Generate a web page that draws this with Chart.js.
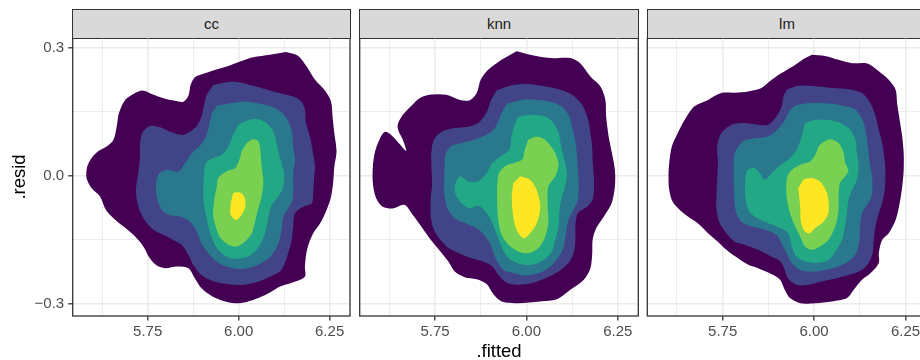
<!DOCTYPE html>
<html>
<head>
<meta charset="utf-8">
<script src="https://cdn.jsdelivr.net/npm/chart.js@4.4.0/dist/chart.umd.min.js"></script>
<style>
  html, body { margin: 0; padding: 0; background: #fff; }
  body { position: relative; width: 920px; height: 360px; overflow: hidden; }
  canvas { position: absolute; top: 38px; }
  .strip {
    position: absolute; top: 9px; height: 30px; box-sizing: border-box;
    background: #d9d9d9; border: 1.3px solid #333333;
    font: 15px "Liberation Sans", Arial, sans-serif; color: #1a1a1a;
    text-align: center; line-height: 28px;
  }
</style>
</head>
<body>
<div class="strip" style="left:72px;width:279px">cc</div>
<div class="strip" style="left:359px;width:280px">knn</div>
<div class="strip" style="left:647px;width:280px">lm</div>
<canvas id="cc" width="352" height="322" style="left:0px"></canvas>
<canvas id="knn" width="288" height="322" style="left:352px"></canvas>
<canvas id="lm" width="290" height="322" style="left:640px"></canvas>
<script>
// axes
const xTicks = [5.625, 5.75, 5.875, 6.0, 6.125, 6.25];
const xLabels = ['', '5.75', '', '6.00', '', '6.25'];
const yTicks = [-0.3, -0.15, 0, 0.15, 0.3];
const yLabels = ['\u22120.3', '', '0.0', '', '0.3'];
const xRange = [5.544, 6.306];
const yRange = [-0.329, 0.322];

// viridis, lowest density band first
const levelColors = ['#440154', '#414487', '#2A788E', '#22A884', '#7AD151', '#FDE725'];

// density contour outlines (.fitted, .resid), per panel, outer to inner
const ccL1 = [[6.130,0.289],[6.164,0.280],[6.187,0.255],[6.210,0.224],[6.237,0.199],[6.254,0.173],[6.258,0.138],[6.263,0.099],[6.269,0.056],[6.263,0.021],[6.260,-0.014],[6.254,-0.049],[6.242,-0.080],[6.224,-0.112],[6.205,-0.135],[6.189,-0.170],[6.182,-0.213],[6.182,-0.237],[6.146,-0.251],[6.114,-0.260],[6.086,-0.274],[6.054,-0.287],[6.022,-0.296],[5.990,-0.299],[5.958,-0.294],[5.926,-0.282],[5.898,-0.264],[5.880,-0.241],[5.862,-0.217],[5.830,-0.213],[5.798,-0.217],[5.775,-0.211],[5.756,-0.194],[5.738,-0.166],[5.711,-0.139],[5.683,-0.119],[5.656,-0.100],[5.635,-0.080],[5.619,-0.049],[5.596,-0.030],[5.582,-0.006],[5.584,0.021],[5.596,0.041],[5.613,0.056],[5.637,0.068],[5.656,0.084],[5.665,0.115],[5.671,0.146],[5.688,0.177],[5.711,0.191],[5.736,0.199],[5.761,0.191],[5.793,0.181],[5.825,0.175],[5.848,0.173],[5.862,0.187],[5.868,0.212],[5.880,0.230],[5.903,0.238],[5.930,0.246],[5.967,0.255],[6.004,0.267],[6.040,0.277],[6.086,0.283]];
const ccL2 = [[5.930,0.212],[5.985,0.220],[6.040,0.210],[6.095,0.197],[6.150,0.185],[6.173,0.173],[6.182,0.154],[6.185,0.123],[6.196,0.091],[6.203,0.060],[6.210,0.021],[6.207,-0.010],[6.205,-0.041],[6.201,-0.065],[6.178,-0.073],[6.155,-0.088],[6.150,-0.119],[6.146,-0.151],[6.136,-0.182],[6.127,-0.205],[6.114,-0.225],[6.086,-0.237],[6.059,-0.247],[6.022,-0.255],[5.985,-0.256],[5.949,-0.252],[5.917,-0.243],[5.894,-0.230],[5.875,-0.209],[5.862,-0.186],[5.843,-0.162],[5.820,-0.151],[5.793,-0.139],[5.766,-0.127],[5.745,-0.108],[5.729,-0.084],[5.720,-0.057],[5.718,-0.030],[5.724,0.005],[5.729,0.045],[5.729,0.076],[5.736,0.101],[5.756,0.116],[5.784,0.113],[5.816,0.101],[5.846,0.095],[5.866,0.103],[5.885,0.116],[5.898,0.138],[5.905,0.166],[5.912,0.189]];
const ccL3 = [[5.940,0.163],[5.976,0.169],[6.022,0.173],[6.068,0.166],[6.109,0.154],[6.132,0.134],[6.146,0.103],[6.150,0.068],[6.155,0.037],[6.150,0.005],[6.150,-0.026],[6.148,-0.057],[6.136,-0.077],[6.123,-0.096],[6.118,-0.127],[6.109,-0.159],[6.091,-0.186],[6.063,-0.205],[6.031,-0.216],[5.999,-0.219],[5.967,-0.213],[5.940,-0.202],[5.917,-0.182],[5.898,-0.159],[5.885,-0.131],[5.866,-0.108],[5.839,-0.096],[5.807,-0.092],[5.786,-0.077],[5.775,-0.049],[5.773,-0.018],[5.782,0.005],[5.807,0.013],[5.834,0.009],[5.853,0.029],[5.871,0.052],[5.894,0.070],[5.910,0.091],[5.919,0.119],[5.926,0.146]];
const ccL4 = [[5.999,0.119],[6.027,0.130],[6.054,0.132],[6.077,0.123],[6.097,0.099],[6.106,0.068],[6.115,0.037],[6.125,0.002],[6.121,-0.030],[6.109,-0.049],[6.091,-0.069],[6.082,-0.096],[6.075,-0.127],[6.063,-0.155],[6.045,-0.178],[6.022,-0.191],[5.995,-0.195],[5.967,-0.190],[5.944,-0.174],[5.929,-0.151],[5.919,-0.127],[5.912,-0.100],[5.905,-0.069],[5.903,-0.034],[5.905,0.002],[5.910,0.029],[5.930,0.041],[5.953,0.048],[5.972,0.068],[5.985,0.095]];
const ccL5 = [[6.022,0.076],[6.040,0.085],[6.054,0.080],[6.060,0.056],[6.063,0.021],[6.068,-0.014],[6.063,-0.049],[6.054,-0.077],[6.045,-0.108],[6.036,-0.135],[6.017,-0.155],[5.995,-0.166],[5.972,-0.162],[5.951,-0.147],[5.938,-0.123],[5.930,-0.092],[5.933,-0.057],[5.940,-0.026],[5.944,-0.006],[5.965,0.009],[5.990,0.017],[6.002,0.037],[6.008,0.056]];
const ccL6 = [[5.985,-0.041],[6.004,-0.040],[6.017,-0.053],[6.017,-0.077],[5.995,-0.104],[5.978,-0.092],[5.978,-0.065]];

const knnL1 = [[5.973,0.291],[6.010,0.283],[6.065,0.275],[6.120,0.275],[6.147,0.263],[6.175,0.232],[6.202,0.209],[6.216,0.177],[6.218,0.138],[6.225,0.091],[6.234,0.052],[6.242,0.013],[6.242,-0.026],[6.233,-0.065],[6.212,-0.096],[6.191,-0.123],[6.181,-0.151],[6.180,-0.182],[6.175,-0.217],[6.157,-0.244],[6.123,-0.266],[6.083,-0.290],[6.038,-0.295],[5.978,-0.299],[5.932,-0.295],[5.909,-0.277],[5.891,-0.254],[5.864,-0.243],[5.831,-0.238],[5.804,-0.225],[5.786,-0.201],[5.763,-0.176],[5.735,-0.147],[5.712,-0.119],[5.689,-0.092],[5.667,-0.069],[5.635,-0.077],[5.607,-0.073],[5.589,-0.053],[5.580,-0.018],[5.580,0.021],[5.586,0.056],[5.598,0.084],[5.612,0.102],[5.630,0.095],[5.653,0.074],[5.671,0.058],[5.662,0.084],[5.650,0.105],[5.648,0.119],[5.662,0.142],[5.685,0.163],[5.708,0.181],[5.735,0.189],[5.781,0.189],[5.818,0.177],[5.845,0.176],[5.864,0.193],[5.875,0.224],[5.896,0.248],[5.932,0.271]];
const knnL2 = [[5.918,0.199],[5.955,0.210],[5.996,0.215],[6.042,0.210],[6.088,0.202],[6.125,0.189],[6.152,0.166],[6.169,0.130],[6.175,0.099],[6.180,0.068],[6.181,0.037],[6.184,0.005],[6.185,-0.026],[6.181,-0.057],[6.166,-0.073],[6.141,-0.088],[6.134,-0.119],[6.134,-0.151],[6.129,-0.182],[6.115,-0.205],[6.088,-0.225],[6.051,-0.241],[6.015,-0.252],[5.978,-0.256],[5.946,-0.251],[5.925,-0.235],[5.907,-0.213],[5.879,-0.201],[5.850,-0.194],[5.815,-0.182],[5.787,-0.170],[5.765,-0.151],[5.747,-0.127],[5.738,-0.096],[5.738,-0.057],[5.742,-0.018],[5.740,0.021],[5.740,0.056],[5.747,0.084],[5.769,0.103],[5.804,0.111],[5.845,0.115],[5.870,0.124],[5.891,0.148],[5.903,0.177]];
const knnL3 = [[5.946,0.168],[5.987,0.177],[6.028,0.177],[6.065,0.173],[6.095,0.163],[6.115,0.142],[6.126,0.111],[6.134,0.080],[6.138,0.048],[6.141,0.013],[6.143,-0.026],[6.141,-0.057],[6.129,-0.080],[6.115,-0.104],[6.108,-0.135],[6.102,-0.166],[6.086,-0.194],[6.060,-0.217],[6.028,-0.230],[5.992,-0.234],[5.960,-0.227],[5.937,-0.221],[5.918,-0.198],[5.900,-0.159],[5.873,-0.129],[5.836,-0.113],[5.804,-0.100],[5.786,-0.080],[5.776,-0.049],[5.775,-0.010],[5.776,0.021],[5.778,0.048],[5.793,0.068],[5.822,0.076],[5.857,0.084],[5.885,0.093],[5.912,0.109],[5.930,0.142]];
const knnL4 = [[5.976,0.137],[6.015,0.142],[6.051,0.138],[6.074,0.123],[6.088,0.099],[6.095,0.068],[6.104,0.037],[6.111,0.005],[6.106,-0.026],[6.095,-0.057],[6.090,-0.088],[6.088,-0.119],[6.079,-0.151],[6.070,-0.178],[6.047,-0.198],[6.015,-0.209],[5.983,-0.207],[5.955,-0.196],[5.937,-0.176],[5.925,-0.151],[5.914,-0.127],[5.903,-0.104],[5.886,-0.082],[5.868,-0.071],[5.845,-0.077],[5.822,-0.065],[5.806,-0.043],[5.804,-0.026],[5.818,-0.002],[5.841,-0.014],[5.868,-0.014],[5.891,0.005],[5.907,0.029],[5.932,0.047],[5.953,0.060],[5.960,0.099]];
const knnL5 = [[6.005,0.084],[6.024,0.091],[6.044,0.087],[6.062,0.074],[6.079,0.052],[6.088,0.025],[6.079,-0.002],[6.060,-0.026],[6.058,-0.065],[6.060,-0.108],[6.051,-0.144],[6.033,-0.170],[6.005,-0.182],[5.978,-0.178],[5.951,-0.162],[5.932,-0.139],[5.923,-0.104],[5.920,-0.065],[5.920,-0.026],[5.925,0.005],[5.943,0.023],[5.969,0.030],[5.989,0.038],[5.995,0.060]];
const knnL6 = [[5.983,-0.002],[6.010,-0.010],[6.028,-0.034],[6.038,-0.073],[6.028,-0.112],[6.010,-0.135],[5.992,-0.147],[5.973,-0.127],[5.964,-0.096],[5.960,-0.049],[5.964,-0.018]];

const lmL1 = [[5.994,0.283],[6.030,0.280],[6.067,0.271],[6.104,0.263],[6.145,0.262],[6.177,0.244],[6.204,0.224],[6.223,0.201],[6.227,0.169],[6.234,0.130],[6.241,0.091],[6.245,0.052],[6.245,0.013],[6.241,-0.026],[6.234,-0.065],[6.223,-0.104],[6.204,-0.135],[6.186,-0.151],[6.177,-0.182],[6.177,-0.205],[6.154,-0.229],[6.131,-0.244],[6.108,-0.268],[6.090,-0.287],[6.049,-0.295],[6.003,-0.299],[5.962,-0.299],[5.934,-0.287],[5.920,-0.268],[5.907,-0.244],[5.879,-0.229],[5.847,-0.217],[5.820,-0.209],[5.792,-0.194],[5.760,-0.174],[5.737,-0.155],[5.710,-0.135],[5.682,-0.112],[5.655,-0.096],[5.632,-0.080],[5.613,-0.061],[5.604,-0.034],[5.602,-0.002],[5.604,0.029],[5.611,0.068],[5.627,0.099],[5.646,0.130],[5.673,0.162],[5.710,0.177],[5.746,0.193],[5.783,0.194],[5.820,0.197],[5.856,0.205],[5.884,0.224],[5.911,0.240],[5.948,0.259],[5.971,0.273]];
const lmL2 = [[5.925,0.201],[5.957,0.210],[6.003,0.209],[6.049,0.205],[6.094,0.202],[6.131,0.193],[6.154,0.169],[6.168,0.138],[6.177,0.107],[6.186,0.076],[6.193,0.037],[6.195,0.005],[6.193,-0.034],[6.186,-0.065],[6.177,-0.088],[6.168,-0.119],[6.163,-0.151],[6.160,-0.182],[6.149,-0.205],[6.131,-0.221],[6.094,-0.233],[6.058,-0.241],[6.021,-0.248],[5.984,-0.256],[5.952,-0.256],[5.929,-0.241],[5.920,-0.221],[5.907,-0.201],[5.875,-0.186],[5.847,-0.174],[5.810,-0.162],[5.783,-0.155],[5.760,-0.135],[5.742,-0.112],[5.733,-0.080],[5.733,-0.049],[5.735,-0.010],[5.737,0.029],[5.735,0.068],[5.746,0.099],[5.774,0.119],[5.810,0.123],[5.847,0.119],[5.875,0.119],[5.897,0.138],[5.911,0.162],[5.916,0.185]];
const lmL3 = [[5.948,0.164],[5.984,0.169],[6.030,0.169],[6.076,0.164],[6.113,0.154],[6.133,0.130],[6.142,0.099],[6.147,0.068],[6.151,0.037],[6.157,0.005],[6.160,-0.026],[6.157,-0.049],[6.145,-0.069],[6.131,-0.088],[6.126,-0.119],[6.124,-0.151],[6.115,-0.182],[6.094,-0.201],[6.067,-0.213],[6.030,-0.221],[5.994,-0.225],[5.962,-0.221],[5.939,-0.205],[5.925,-0.182],[5.911,-0.159],[5.897,-0.139],[5.865,-0.127],[5.829,-0.119],[5.801,-0.108],[5.785,-0.080],[5.781,-0.041],[5.780,0.005],[5.783,0.052],[5.806,0.080],[5.838,0.087],[5.870,0.091],[5.897,0.105],[5.920,0.130],[5.934,0.154]];
const lmL4 = [[5.975,0.123],[6.003,0.130],[6.058,0.127],[6.094,0.111],[6.113,0.084],[6.117,0.052],[6.122,0.021],[6.117,-0.010],[6.104,-0.034],[6.094,-0.057],[6.090,-0.088],[6.085,-0.119],[6.076,-0.151],[6.062,-0.174],[6.039,-0.198],[6.003,-0.205],[5.975,-0.201],[5.952,-0.190],[5.939,-0.166],[5.929,-0.135],[5.897,-0.119],[5.865,-0.108],[5.838,-0.096],[5.820,-0.080],[5.812,-0.049],[5.812,-0.010],[5.818,0.013],[5.838,0.017],[5.852,0.005],[5.865,-0.010],[5.884,0.005],[5.902,0.021],[5.929,0.037],[5.952,0.060],[5.966,0.091]];
const lmL5 = [[6.021,0.076],[6.044,0.085],[6.067,0.076],[6.081,0.052],[6.085,0.029],[6.094,0.013],[6.085,-0.002],[6.071,-0.018],[6.067,-0.049],[6.067,-0.080],[6.058,-0.119],[6.039,-0.151],[6.016,-0.166],[5.994,-0.174],[5.975,-0.166],[5.962,-0.143],[5.948,-0.119],[5.934,-0.088],[5.925,-0.049],[5.925,-0.010],[5.934,0.009],[5.962,0.025],[5.989,0.033],[6.003,0.048],[6.012,0.068]];
const lmL6 = [[5.971,-0.009],[5.994,-0.006],[6.016,-0.014],[6.032,-0.034],[6.039,-0.057],[6.039,-0.088],[6.026,-0.108],[6.003,-0.123],[5.989,-0.135],[5.975,-0.131],[5.964,-0.108],[5.962,-0.073],[5.957,-0.030]];

const fontFamily = '"Liberation Sans", Arial, sans-serif';

// draws the dark frame round each panel
const panelBox = {
  id: 'panelBox',
  afterDraw(chart) {
    const { ctx, chartArea: a } = chart;
    ctx.save();
    ctx.strokeStyle = '#333333';
    ctx.lineWidth = 1.3;
    ctx.strokeRect(a.left, a.top, a.right - a.left, a.bottom - a.top);
    ctx.restore();
  }
};

function contourSets(levels) {
  return levels.map((pts, i) => ({
    data: pts.map(p => ({ x: p[0], y: p[1] })),
    fill: 'shape',
    backgroundColor: levelColors[i],
    borderColor: 'rgba(0,0,0,0)',
    borderWidth: 1,
    pointRadius: 0,
    tension: 0.3,
    order: levels.length - i
  }));
}

function makePanel(id, levels, opts) {
  const first = opts.showY;
  new Chart(document.getElementById(id), {
    type: 'line',
    data: { datasets: contourSets(levels) },
    plugins: [panelBox],
    options: {
      responsive: false,
      animation: false,
      events: [],
      layout: { padding: opts.padding },
      plugins: { legend: { display: false }, tooltip: { enabled: false } },
      scales: {
        x: {
          type: 'linear',
          min: xRange[0],
          max: xRange[1],
          afterBuildTicks: s => { s.ticks = xTicks.map(v => ({ value: v })); },
          afterFit: s => { s.height = 44; s.paddingLeft = 0; s.paddingRight = 0; },
          border: { display: false },
          grid: {
            color: '#EBEBEB',
            lineWidth: c => (xLabels[c.index] ? 1.6 : 0.9),
            tickLength: 4.5,
            tickWidth: 1.3,
            tickColor: c => (xLabels[c.index] ? '#333333' : 'rgba(0,0,0,0)')
          },
          ticks: {
            autoSkip: false,
            maxRotation: 0,
            padding: 2,
            color: '#4D4D4D',
            font: { family: fontFamily, size: 15 },
            callback: (v, i) => xLabels[i]
          },
          title: {
            display: !!opts.xTitle,
            text: opts.xTitle || '',
            color: '#000000',
            font: { family: fontFamily, size: 18.5, lineHeight: 0.9 },
            padding: { top: 0, bottom: 0 }
          }
        },
        y: {
          type: 'linear',
          min: yRange[0],
          max: yRange[1],
          afterBuildTicks: s => { s.ticks = yTicks.map(v => ({ value: v })); },
          afterFit: s => { s.width = first ? 72.7 : 0; s.paddingTop = 0; s.paddingBottom = 0; },
          border: { display: false },
          grid: {
            color: '#EBEBEB',
            lineWidth: c => (yLabels[c.index] ? 1.6 : 0.9),
            drawTicks: first,
            tickLength: 4.5,
            tickWidth: 1.3,
            tickColor: c => (yLabels[c.index] ? '#333333' : 'rgba(0,0,0,0)')
          },
          ticks: {
            display: first,
            padding: 4,
            color: '#4D4D4D',
            font: { family: fontFamily, size: 15 },
            callback: (v, i) => yLabels[i]
          },
          title: {
            display: first,
            text: '.resid',
            color: '#000000',
            font: { family: fontFamily, size: 18.5 },
            padding: { top: 9, bottom: 0 }
          }
        }
      }
    }
  });
}

makePanel('cc', [ccL1, ccL2, ccL3, ccL4, ccL5, ccL6],
  { showY: true, padding: { left: 0, right: 2, top: 0, bottom: 0 } });
makePanel('knn', [knnL1, knnL2, knnL3, knnL4, knnL5, knnL6],
  { showY: false, xTitle: '.fitted', padding: { left: 7.7, right: 1.7, top: 0, bottom: 0 } });
makePanel('lm', [lmL1, lmL2, lmL3, lmL4, lmL5, lmL6],
  { showY: false, padding: { left: 7.3, right: 4, top: 0, bottom: 0 } });
</script>
</body>
</html>
